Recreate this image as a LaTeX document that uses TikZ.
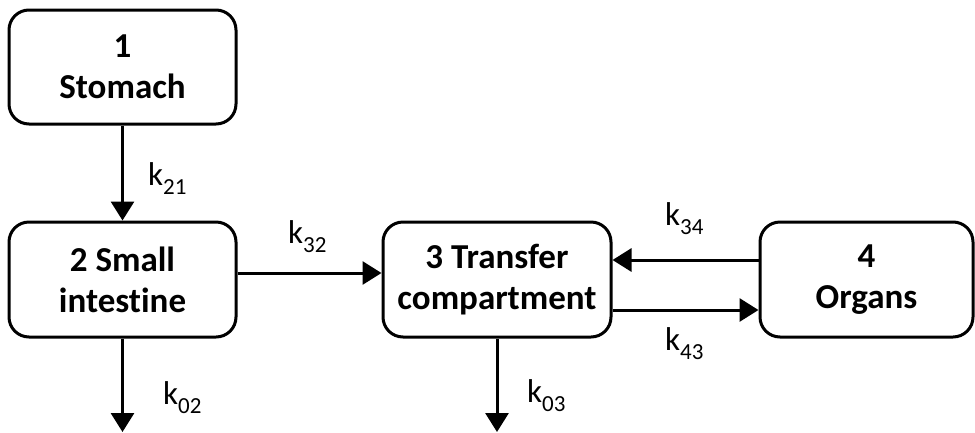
\documentclass[tikz,border=0pt]{standalone}
\usepackage{fontspec}
\setmainfont[Ligatures=NoCommon]{Carlito}
\usetikzlibrary{arrows.meta}
\newcommand\ksub[2]{k\raisebox{-0.28em}{\fontsize{23}{25}\selectfont #1#2}}
\begin{document}
\begin{tikzpicture}[x=1pt,y=-1pt,
  comp/.style={draw, line width=3pt, rounded corners=20pt, align=center,
    font=\fontsize{35}{41}\selectfont\bfseries, inner sep=0pt},
  flow/.style={line width=3pt, -{Triangle[width=23pt,length=19pt]}},
  rate/.style={anchor=base west, inner sep=0pt, font=\fontsize{33}{38}\selectfont}]
\useasboundingbox (0,0) rectangle (975,432);
\fill[white] (0,0) rectangle (975,432);

\node[comp, minimum width=227pt, minimum height=114pt] (s) at (122.5,67) {1\\Stomach};
\node[comp, minimum width=227pt, minimum height=115pt] (si) at (122.5,279.5) {2 Small\\intestine};
\node[comp, minimum width=228pt, minimum height=115pt] (tc) at (497,279.5) {3 Transfer\\compartment};
\node[comp, minimum width=213pt, minimum height=115pt] (or) at (866.5,279.5) {4\\Organs};

\coordinate (out2) at (122.5,432);
\coordinate (out3) at (497,432);

\draw[flow] (s) -- (si);
\draw[flow] (si) -- (out2);
\draw[flow] (tc) -- (out3);
\draw[flow] ([yshift=6.5pt]si.east) -- ([yshift=6.5pt]tc.west);
\draw[flow] ([yshift=19.5pt]or.west) -- ([yshift=19.5pt]tc.east);
\draw[flow] ([yshift=-30.5pt]tc.east) -- ([yshift=-30.5pt]or.west);

\node[rate] (k21) at (148,185) {\ksub21};
\node[rate] (k02) at (163,404) {\ksub02};
\node[rate] (k32) at (288,243) {\ksub32};
\node[rate] (k03) at (527,402) {\ksub03};
\node[rate] (k34) at (665,225) {\ksub34};
\node[rate] (k43) at (665,350) {\ksub43};
\end{tikzpicture}
\end{document}
